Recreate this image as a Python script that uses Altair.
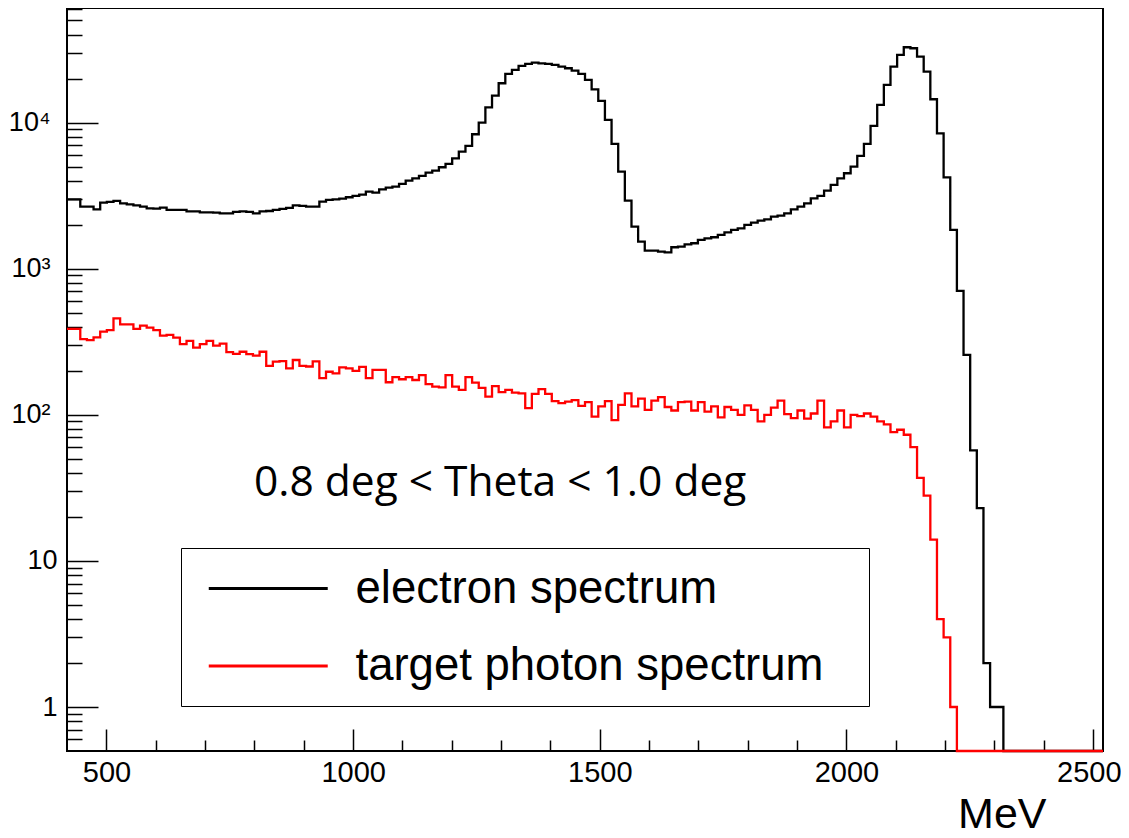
import altair as alt
import pandas as pd

# ---------------- data ----------------
X_MIN, X_MAX = 420.0, 2520.0
N_BINS = 156
Y_MIN, Y_MAX = 0.5, 60800.0

electron = [
    2984, 2984, 2658, 2658, 2549, 2831, 2861, 2907, 2802, 2758,
    2715, 2658, 2589, 2575, 2617, 2522, 2522, 2522, 2470, 2470,
    2431, 2431, 2418, 2393, 2393, 2444, 2470, 2444, 2393, 2470,
    2480, 2522, 2562, 2603, 2715, 2687, 2658, 2658, 2876, 2952,
    2984, 3015, 3080, 3146, 3212, 3367, 3314, 3493, 3585, 3642,
    3800, 4006, 4155, 4311, 4543, 4688, 4942, 5207, 5693, 6324,
    6917, 8313, 9989, 12720, 15290, 18570, 21510, 22910, 24400, 25180,
    25720, 25440, 25180, 24790, 24150, 23520, 22670, 21510, 19570, 16890,
    14060, 10420, 7137, 4614, 2922, 1940, 1531, 1328, 1328, 1308,
    1294, 1401, 1415, 1468, 1492, 1572, 1614, 1640, 1701, 1774,
    1840, 1889, 1991, 2066, 2133, 2177, 2271, 2307, 2393, 2549,
    2658, 2802, 3031, 3146, 3421, 3740, 4155, 4496, 4994, 5906,
    7137, 9478, 13200, 18090, 24150, 29020, 32750, 32240, 28270, 22310,
    14430, 8444, 4221, 1840, 704, 257, 57, 23, 2, 1,
    1, 0, 0, 0, 0, 0, 0, 0, 0, 0,
    0, 0, 0, 0, 0, 0,
]

photon = [
    387, 387, 329, 324, 339, 371, 380, 457, 416, 416,
    387, 407, 395, 380, 348, 352, 337, 304, 320, 288,
    304, 320, 297, 307, 268, 261, 270, 260, 254, 270,
    216, 231, 233, 208, 237, 216, 214, 232, 178, 197,
    192, 211, 208, 200, 213, 178, 203, 203, 167, 181,
    175, 181, 173, 187, 162, 156, 154, 187, 156, 148,
    181, 166, 153, 133, 157, 143, 148, 142, 140, 111,
    139, 150, 139, 124, 120, 123, 126, 115, 122, 97,
    114, 124, 92, 117, 140, 114, 129, 108, 125, 132,
    113, 107, 122, 123, 107, 122, 105, 114, 96, 113,
    108, 100, 116, 108, 90, 100, 112, 125, 101, 95,
    107, 94, 102, 125, 82, 90, 107, 82, 100, 98,
    102, 97, 90, 86, 76, 79, 73, 60, 37, 28,
    14, 4, 3, 1, 0, 0, 0, 0, 0, 0,
    0, 0, 0, 0, 0, 0, 0, 0, 0, 0,
    0, 0, 0, 0, 0, 0,
]

series_names = ["electron spectrum", "target photon spectrum"]
series_colors = ["#000000", "#ff0000"]

x_major = [500, 1000, 1500, 2000, 2500]
x_labels_main = [500, 1000, 1500, 2000]
x_labels_edge = [2500]
x_minor = [v for v in range(600, 2500, 100) if v % 500 != 0]
y_major = [1, 10, 100, 1000, 10000]
y_minor = ([0.6, 0.7, 0.8, 0.9]
           + [k * 10 ** d for d in range(0, 4) for k in range(2, 10)]
           + [20000, 30000, 40000, 50000, 60000])
y_labels_high = [100, 1000, 10000]
y_labels_low = [1, 10]

annotation_text = ["0.8 deg < Theta < 1.0 deg"]
annotation_x = [1298]
annotation_y = [27.6]

# ---------------- table ----------------
bin_w = (X_MAX - X_MIN) / N_BINS
rows = []
for name, vals in zip(series_names, [electron, photon]):
    ext = list(vals) + [vals[-1]]
    for i, v in enumerate(ext):
        rows.append({"E": X_MIN + i * bin_w, "count": v, "series": name, "order": i})
df = pd.DataFrame(rows)

W, H = 1036, 743
FONT = "Liberation Sans"

xs = alt.Scale(domain=[X_MIN, X_MAX], nice=False, zero=False)
ys = alt.Scale(type="log", domain=[Y_MIN, Y_MAX], nice=False)

LFS = 45.5          # legend label font size
K = 119.0 / LFS     # half-length factor of the legend line symbol
legend = alt.Legend(
    title="\u00a0", titleOrient="right", titlePadding=30, titleFontSize=1,
    orient="none", legendX=114, legendY=540,
    symbolType=f"M-{K:.3f},0L{K:.3f},0", symbolSize=LFS * LFS, symbolStrokeWidth=3,
    labelFont=FONT, labelFontSize=LFS, labelColor="black", labelLimit=2000,
    labelOffset=62.75, padding=16, symbolOffset=46.75, rowPadding=75 - LFS,
    strokeColor="black", fillColor="white",
)
color_enc = alt.Color("series:N", scale=alt.Scale(domain=series_names, range=series_colors),
                      legend=legend)

base = alt.Chart(df).transform_calculate(yv=f"max(datum.count, {Y_MIN})")

x_label_axis = alt.Axis(
    orient="bottom", values=x_labels_main, format="d", ticks=False, domain=False, grid=False,
    labelFont=FONT, labelFontSize=29, labelPadding=7, labelColor="black",
    labelFlush=False, labelOverlap=False,
    title="MeV", titleFont=FONT, titleFontSize=43, titleFontWeight="normal",
    titleColor="black", titleAlign="right", titleBaseline="alphabetic",
    titleX=979, titleY=76,
)
# the last label sits close to the page edge: flush it (right aligned) and push it back
x_label_axis_edge = alt.Axis(
    orient="bottom", values=x_labels_edge, format="d", ticks=False, domain=False, grid=False,
    labelFont=FONT, labelFontSize=29, labelPadding=7, labelColor="black",
    labelFlush=15, labelFlushOffset=28, labelOverlap=False, title=None,
)
y_label_axis_high = alt.Axis(
    orient="left", values=y_labels_high, ticks=False, domain=False, grid=False,
    labelFont=FONT, labelFontSize=27, labelPadding=17, labelColor="black",
    labelOverlap=False, labelFlush=False,
    labelExpr="datum.value >= 10000 ? '10\u2074' : (datum.value >= 1000 ? '10\u00b3' : '10\u00b2')",
    title=None,
)
y_label_axis_low = alt.Axis(
    orient="left", values=y_labels_low, ticks=False, domain=False, grid=False,
    labelFont=FONT, labelFontSize=27, labelPadding=10, labelColor="black",
    labelOverlap=False, labelFlush=False, format="d", title=None,
)


def tick_axis_x(values, size):
    return alt.Axis(orient="top", offset=-H, values=values, tickSize=size, tickWidth=1.5,
                    tickColor="black", labels=False, domain=False, grid=False, title=None)


def tick_axis_y(values, size):
    return alt.Axis(orient="right", offset=-W, values=values, tickSize=size, tickWidth=1.5,
                    tickColor="black", labels=False, domain=False, grid=False, title=None)


black = base.transform_filter(alt.datum.series == series_names[0]).mark_line(
    interpolate="step-after", strokeWidth=2.3
).encode(
    x=alt.X("E:Q", scale=xs, axis=x_label_axis),
    y=alt.Y("yv:Q", scale=ys, axis=y_label_axis_high),
    color=color_enc, order="order:Q",
)

red = base.transform_filter(alt.datum.series == series_names[1]).mark_line(
    interpolate="step-after", strokeWidth=2.3
).encode(
    x=alt.X("E:Q", scale=xs, axis=None),
    y=alt.Y("yv:Q", scale=ys, axis=None),
    color=color_enc, order="order:Q",
)

major_ticks = base.mark_point(opacity=0).encode(
    x=alt.X("E:Q", scale=xs, axis=tick_axis_x(x_major, 22)),
    y=alt.Y("yv:Q", scale=ys, axis=tick_axis_y(y_major, 31)),
)
minor_ticks = base.mark_point(opacity=0).encode(
    x=alt.X("E:Q", scale=xs, axis=tick_axis_x(x_minor, 11)),
    y=alt.Y("yv:Q", scale=ys, axis=tick_axis_y(y_minor, 15)),
)
extra_labels = base.mark_point(opacity=0).encode(
    x=alt.X("E:Q", scale=xs, axis=x_label_axis_edge),
    y=alt.Y("yv:Q", scale=ys, axis=y_label_axis_low),
)

ann_df = pd.DataFrame({"E": annotation_x, "yv": annotation_y, "label": annotation_text})
annotation = alt.Chart(ann_df).mark_text(
    font="Open Sans", fontSize=42.5, align="center", baseline="alphabetic", color="black"
).encode(
    x=alt.X("E:Q", scale=xs, axis=None),
    y=alt.Y("yv:Q", scale=ys, axis=None),
    text="label:N",
)

chart = alt.layer(
    black, red, annotation, major_ticks, minor_ticks, extra_labels
).resolve_axis(
    x="independent", y="independent"
).properties(
    width=W, height=H,
    autosize=alt.AutoSizeParams(type="none"),
    padding={"left": 59, "top": 0, "right": 18, "bottom": 79},
    background="white",
).configure(
    font=FONT
).configure_view(
    stroke="black", strokeWidth=2
)

chart.save("out.html", embed_options={"renderer": "svg", "actions": False})
